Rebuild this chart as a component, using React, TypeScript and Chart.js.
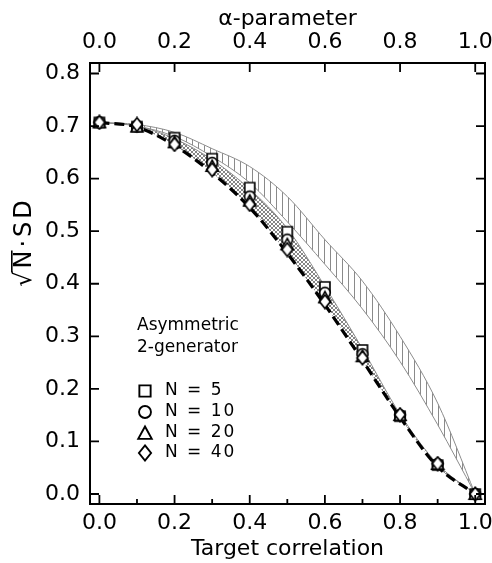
import React, { useEffect, useRef } from 'react';
import { Chart, registerables } from 'chart.js';

Chart.register(...registerables);

// ---------- data ----------
const targetCorrelation = [0, 0.1, 0.2, 0.3, 0.4, 0.5, 0.6, 0.7, 0.8, 0.9, 1.0];

const sdN5 = [0.707, 0.699, 0.678, 0.638, 0.583, 0.499, 0.394, 0.274, 0.148, 0.055, 0.0];
const sdN10 = [0.707, 0.699, 0.672, 0.630, 0.566, 0.484, 0.383, 0.266, 0.150, 0.057, 0.0];
const sdN20 = [0.707, 0.699, 0.669, 0.624, 0.558, 0.475, 0.374, 0.262, 0.150, 0.057, 0.0];
const sdN40 = [0.707, 0.703, 0.665, 0.617, 0.551, 0.465, 0.366, 0.259, 0.151, 0.058, 0.0];

const theoryDashed = [0.707, 0.698, 0.663, 0.611, 0.545, 0.458, 0.360, 0.254, 0.146, 0.052, 0.0];

const verticalBandUpper = [0.707, 0.703, 0.688, 0.657, 0.623, 0.566, 0.484, 0.405, 0.300, 0.173, 0.0];
const verticalBandLower = [0.707, 0.700, 0.680, 0.642, 0.592, 0.518, 0.437, 0.352, 0.252, 0.132, 0.0];

const crossBandUpper = [0.707, 0.700, 0.676, 0.636, 0.580, 0.505, 0.395, 0.276, 0.152, 0.057, 0.0];

const xTickStep = 0.2;
const yTickStep = 0.1;
const legendTitleLines = ['Asymmetric', '2-generator'];
const legendLabels = ['N = 5', 'N = 10', 'N = 20', 'N = 40'];
const xAxisTitle = 'Target correlation';
const topAxisTitle = 'α-parameter';
const yAxisTitle = '√N·SD';

// ---------- styles ----------
const FONT = '"DejaVu Sans", sans-serif';

type MarkerKind = 'square' | 'circle' | 'triangle' | 'diamond';
const markerKinds: MarkerKind[] = ['square', 'circle', 'triangle', 'diamond'];

function makeMarker(kind: MarkerKind, s: number): HTMLCanvasElement {
  const c = document.createElement('canvas');
  const n = Math.round(16 * s);
  c.width = n;
  c.height = n;
  const g = c.getContext('2d')!;
  g.scale(n / 16, n / 16);
  g.fillStyle = '#fff';
  g.strokeStyle = '#000';
  g.lineWidth = 1.7;
  g.lineJoin = 'miter';
  g.beginPath();
  if (kind === 'square') {
    g.rect(3, 3, 10, 10);
  } else if (kind === 'circle') {
    g.arc(8, 8, 5.3, 0, Math.PI * 2);
  } else if (kind === 'triangle') {
    g.moveTo(8, 2.2);
    g.lineTo(14, 13.2);
    g.lineTo(2, 13.2);
    g.closePath();
  } else {
    g.moveTo(8, 1.3);
    g.lineTo(13.4, 8);
    g.lineTo(8, 14.7);
    g.lineTo(2.6, 8);
    g.closePath();
  }
  g.fill();
  g.stroke();
  return c;
}

function verticalPattern(ctx: CanvasRenderingContext2D): CanvasPattern {
  const c = document.createElement('canvas');
  c.width = 6;
  c.height = 6;
  const g = c.getContext('2d')!;
  g.strokeStyle = '#8a8a8a';
  g.lineWidth = 1;
  g.beginPath();
  g.moveTo(0.5, 0);
  g.lineTo(0.5, 6);
  g.stroke();
  return ctx.createPattern(c, 'repeat')!;
}

function crossPattern(ctx: CanvasRenderingContext2D): CanvasPattern {
  const c = document.createElement('canvas');
  c.width = 4;
  c.height = 4;
  const g = c.getContext('2d')!;
  g.strokeStyle = '#666';
  g.lineWidth = 0.8;
  g.beginPath();
  g.moveTo(-1, -1);
  g.lineTo(5, 5);
  g.moveTo(5, -1);
  g.lineTo(-1, 5);
  g.stroke();
  return ctx.createPattern(c, 'repeat')!;
}

const pts = (ys: number[]) => targetCorrelation.map((x, i) => ({ x, y: ys[i] }));

export default function App() {
  const ref = useRef<HTMLCanvasElement | null>(null);

  useEffect(() => {
    const canvas = ref.current!;
    const ctx0 = canvas.getContext('2d')!;
    const dataMarkers = markerKinds.map((k) => makeMarker(k, 1));
    const legendMarkers = markerKinds.map((k) => makeMarker(k, 1.15));

    const framePlugin = {
      id: 'frameTicks',
      afterDraw(chart: any) {
        const { ctx, chartArea: a, scales } = chart;
        ctx.save();
        ctx.strokeStyle = '#000';
        ctx.lineWidth = 2;
        ctx.strokeRect(a.left, a.top, a.right - a.left, a.bottom - a.top);
        ctx.lineWidth = 1.8;
        const major = 9;
        const minor = 5;
        ctx.beginPath();
        const xs = scales.x;
        xs.ticks.forEach((t: any, i: number) => {
          const p = xs.getPixelForValue(t.value);
          ctx.moveTo(p, a.bottom);
          ctx.lineTo(p, a.bottom - major);
          if (i < xs.ticks.length - 1) {
            const m = xs.getPixelForValue((t.value + xs.ticks[i + 1].value) / 2);
            ctx.moveTo(m, a.bottom);
            ctx.lineTo(m, a.bottom - minor);
          }
        });
        const xt = scales.x2;
        xt.ticks.forEach((t: any) => {
          const p = xt.getPixelForValue(t.value);
          ctx.moveTo(p, a.top);
          ctx.lineTo(p, a.top + major);
        });
        const ys = scales.y;
        ys.ticks.forEach((t: any) => {
          const p = ys.getPixelForValue(t.value);
          ctx.moveTo(a.left, p);
          ctx.lineTo(a.left + major, p);
          ctx.moveTo(a.right, p);
          ctx.lineTo(a.right - major, p);
        });
        ctx.stroke();

        // y-axis title with overline on N
        ctx.save();
        ctx.translate(22, 242);
        ctx.rotate(-Math.PI / 2);
        const fs = 24;
        ctx.font = `${fs}px ${FONT}`;
        (ctx as any).letterSpacing = '3px';
        ctx.fillStyle = '#000';
        ctx.textBaseline = 'alphabetic';
        ctx.textAlign = 'left';
        const W = ctx.measureText(yAxisTitle).width;
        const wR = ctx.measureText('√').width;
        const wN = ctx.measureText('N').width;
        const x0 = -W / 2;
        const base = 9;
        ctx.fillText(yAxisTitle, x0, base);
        (ctx as any).letterSpacing = '0px';
        ctx.lineWidth = 1.6;
        ctx.beginPath();
        ctx.moveTo(x0 + wR - 4, base - fs * 0.8);
        ctx.lineTo(x0 + wR + wN - 3, base - fs * 0.8);
        ctx.stroke();
        ctx.restore();

        // in-plot legend
        ctx.fillStyle = '#000';
        ctx.font = `17px ${FONT}`;
        ctx.textBaseline = 'middle';
        ctx.textAlign = 'left';
        ctx.fillText(legendTitleLines[0], 137, 326);
        ctx.fillText(legendTitleLines[1], 137, 348);
        const rowY = [391, 412, 433, 453];
        legendLabels.forEach((lab, i) => {
          const m = legendMarkers[i];
          ctx.drawImage(m, 145 - m.width / 2, rowY[i] - m.height / 2);
          (ctx as any).letterSpacing = '2px';
          ctx.fillText(lab, 165, rowY[i]);
          (ctx as any).letterSpacing = '0px';
        });
        ctx.restore();
      },
    };

    const grayLine = '#8c8c8c';
    const chart = new Chart(canvas, {
      type: 'line',
      data: {
        datasets: [
          {
            data: pts(verticalBandUpper),
            borderColor: grayLine,
            borderWidth: 1,
            backgroundColor: verticalPattern(ctx0),
            fill: { target: 1 },
            pointRadius: 0,
            cubicInterpolationMode: 'monotone',
            order: 10,
          },
          {
            data: pts(verticalBandLower),
            borderColor: grayLine,
            borderWidth: 1,
            fill: false,
            pointRadius: 0,
            cubicInterpolationMode: 'monotone',
            order: 9,
          },
          {
            data: pts(crossBandUpper),
            borderColor: grayLine,
            borderWidth: 1,
            backgroundColor: crossPattern(ctx0),
            fill: { target: 3 },
            pointRadius: 0,
            cubicInterpolationMode: 'monotone',
            order: 8,
          },
          {
            data: pts(theoryDashed),
            borderColor: '#000',
            borderWidth: 3.2,
            borderDash: [10, 5],
            fill: false,
            pointRadius: 0,
            cubicInterpolationMode: 'monotone',
            order: 7,
          },
          ...[sdN5, sdN10, sdN20, sdN40].map((arr, i) => ({
            data: pts(arr),
            showLine: false,
            fill: false,
            pointStyle: dataMarkers[i],
            pointRadius: 6,
            pointHoverRadius: 6,
            order: 4 - i,
          })),
        ] as any,
      },
      options: {
        responsive: false,
        animation: false,
        events: [],
        layout: { padding: { left: 0, right: 7, top: 0, bottom: 0 } },
        plugins: {
          legend: { display: false },
          tooltip: { enabled: false },
        },
        scales: {
          x: {
            type: 'linear',
            position: 'bottom',
            min: -0.025,
            max: 1.026,
            grid: { display: false, drawTicks: false },
            border: { display: false },
            ticks: {
              stepSize: xTickStep,
              includeBounds: false,
              autoSkip: false,
              maxRotation: 0,
              padding: 6,
              color: '#000',
              font: { family: FONT, size: 22 },
              callback: (v: any) => Number(v).toFixed(1),
            },
            title: {
              display: true,
              text: xAxisTitle,
              color: '#000',
              font: { family: FONT, size: 22 },
              padding: { top: 0, bottom: 1 },
            },
            afterFit: (s: any) => {
              s.height = 59;
              s.paddingLeft = 0;
              s.paddingRight = 0;
            },
          },
          x2: {
            type: 'linear',
            axis: 'x',
            position: 'top',
            min: -0.025,
            max: 1.026,
            grid: { display: false, drawTicks: false },
            border: { display: false },
            ticks: {
              stepSize: xTickStep,
              includeBounds: false,
              autoSkip: false,
              maxRotation: 0,
              padding: 8,
              color: '#000',
              font: { family: FONT, size: 22 },
              callback: (v: any) => Number(v).toFixed(1),
            },
            title: {
              display: true,
              text: topAxisTitle,
              color: '#000',
              font: { family: FONT, size: 22 },
              padding: { top: 6, bottom: 0 },
            },
            afterFit: (s: any) => {
              s.height = 63;
              s.paddingLeft = 0;
              s.paddingRight = 0;
            },
          },
          y: {
            type: 'linear',
            position: 'left',
            min: -0.019,
            max: 0.82,
            grid: { display: false, drawTicks: false },
            border: { display: false },
            ticks: {
              stepSize: yTickStep,
              includeBounds: false,
              padding: 10,
              color: '#000',
              font: { family: FONT, size: 22 },
              callback: (v: any) => Number(v).toFixed(1),
            },
            afterFit: (s: any) => {
              s.width = 90;
              s.paddingTop = 0;
              s.paddingBottom = 0;
            },
          },
        },
      } as any,
      plugins: [framePlugin],
    });
    return () => chart.destroy();
  }, []);

  return (
    <div style={{ position: 'absolute', left: 0, top: 0, width: 492, height: 563, background: '#fff' }}>
      <canvas ref={ref} width={492} height={563} style={{ display: 'block' }} />
    </div>
  );
}
